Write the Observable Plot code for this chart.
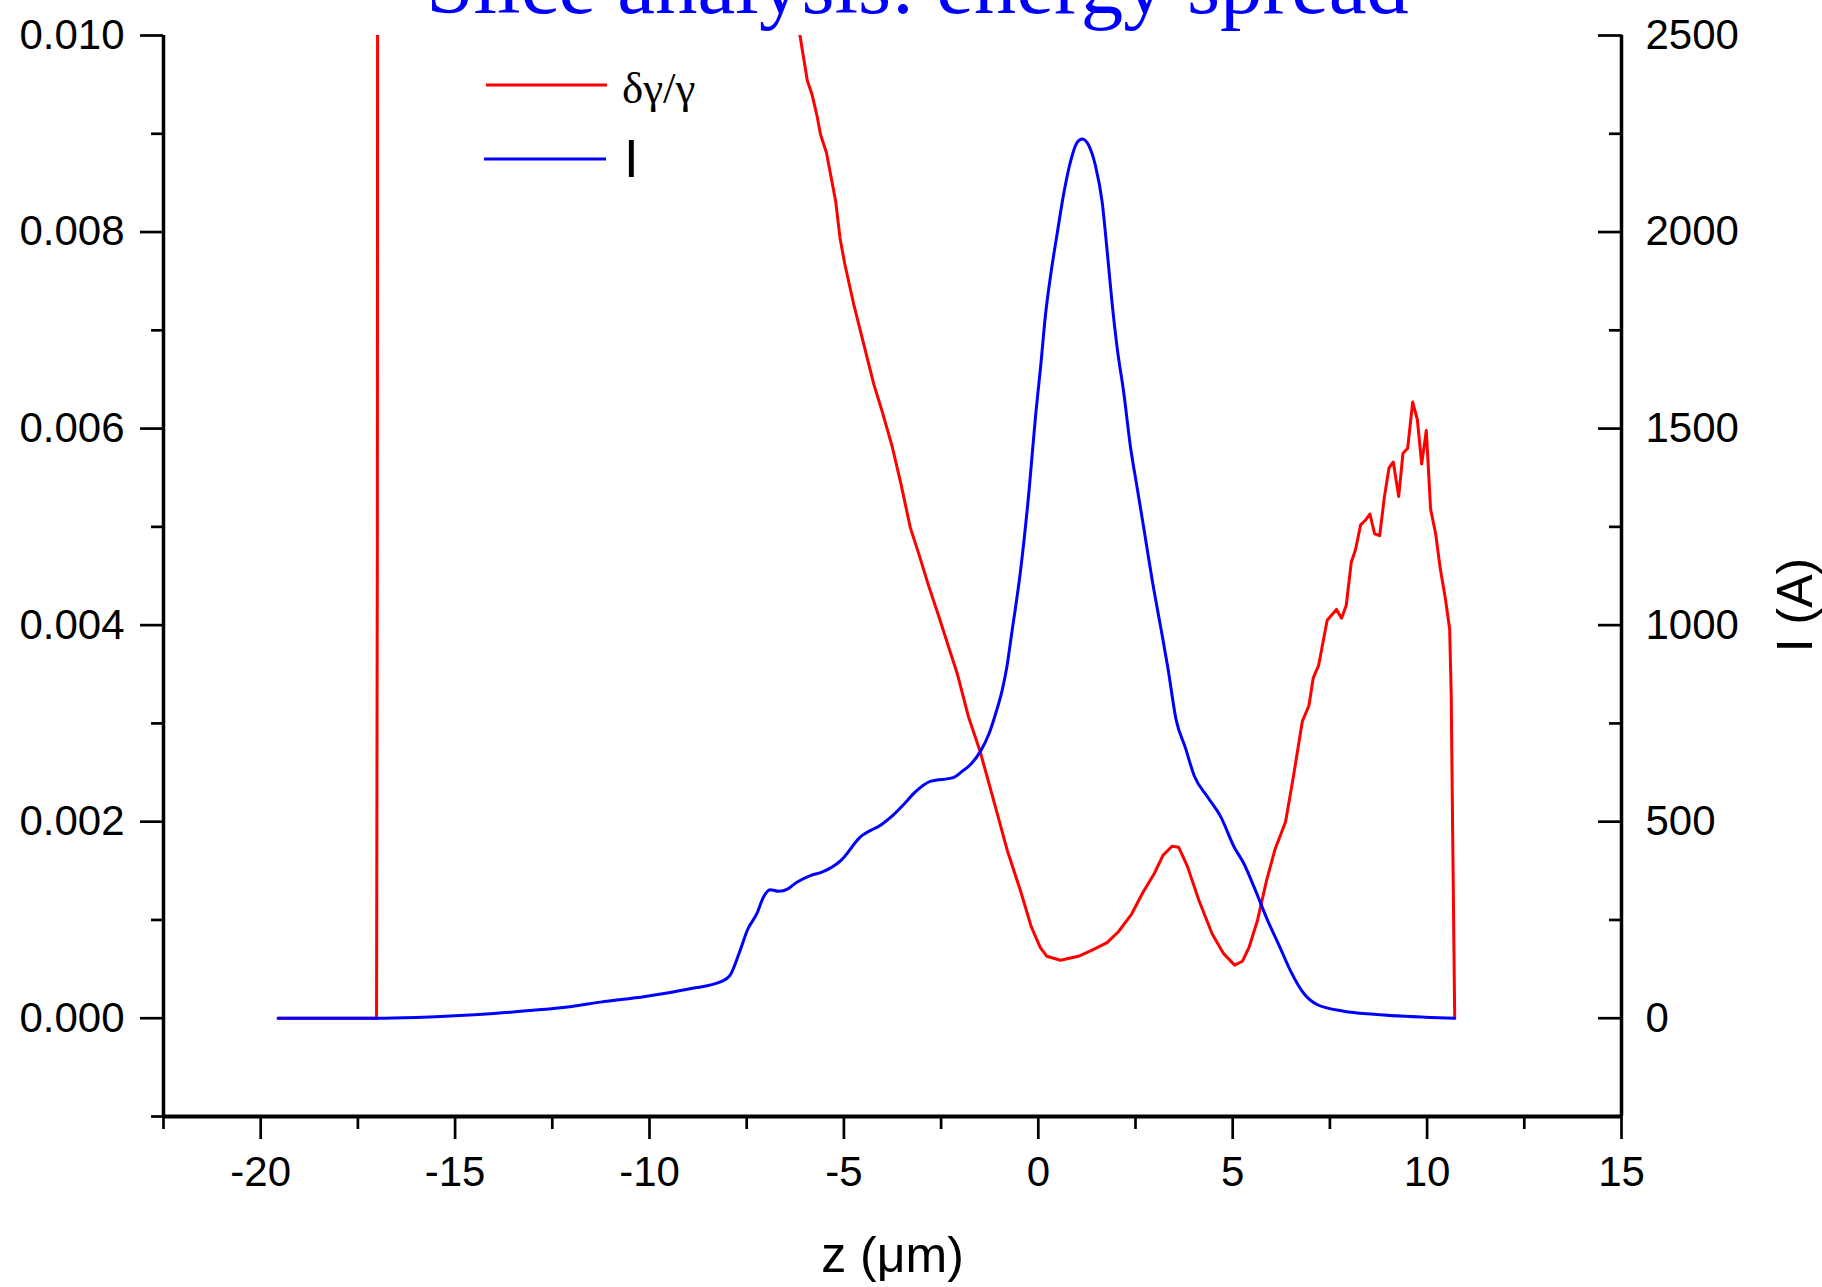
<!DOCTYPE html>
<html><head><meta charset="utf-8">
<script src="https://cdn.jsdelivr.net/npm/d3@7"></script>
<script src="https://cdn.jsdelivr.net/npm/@observablehq/plot@0.6"></script>
<style>
html,body{margin:0;padding:0;background:#fff;overflow:hidden;}
#wrap{position:relative;width:1822px;height:1287px;}
</style></head><body><div id="wrap"></div>
<script>
// ---- data ----
const zDelta = [-19.55,-17.02,-17.00,-16.97,-14,-10,-7.5,-6.6,-6.13,-5.94,-5.82,-5.69,-5.60,-5.45,-5.34,-5.21,-5.10,-4.98,-4.75,-4.49,-4.23,-4.02,-3.76,-3.54,-3.29,-3.07,-2.82,-2.56,-2.30,-2.08,-1.79,-1.50,-1.15,-0.80,-0.46,-0.18,0.05,0.22,0.57,1.03,1.37,1.77,2.06,2.40,2.69,2.98,3.21,3.44,3.61,3.84,4.13,4.47,4.76,5.05,5.25,5.42,5.64,5.87,6.09,6.36,6.57,6.79,6.96,7.07,7.21,7.43,7.67,7.80,7.92,8.05,8.16,8.29,8.42,8.53,8.65,8.78,8.90,9.02,9.13,9.27,9.38,9.50,9.63,9.75,9.86,9.98,10.09,10.22,10.34,10.47,10.58,10.62,10.66,10.71];
const deltaVals = [0,0,0.0049,0.030,0.026,0.018,0.0128,0.0109,0.0100,0.00954,0.00940,0.00918,0.00899,0.00881,0.00858,0.00831,0.00794,0.00768,0.00727,0.00686,0.00645,0.00618,0.00582,0.00545,0.00499,0.00472,0.00440,0.00409,0.00377,0.00350,0.00306,0.00272,0.00222,0.00171,0.00130,0.00093,0.00072,0.00063,0.00059,0.00063,0.00069,0.00077,0.00088,0.00106,0.00128,0.00147,0.00166,0.00175,0.00174,0.00154,0.00120,0.00086,0.00066,0.00054,0.00058,0.00072,0.00100,0.00140,0.00172,0.00200,0.00248,0.00302,0.00318,0.00346,0.00359,0.00405,0.00416,0.00407,0.00420,0.00464,0.00477,0.00502,0.00507,0.00513,0.00493,0.00491,0.00530,0.00560,0.00566,0.00531,0.00575,0.00580,0.00627,0.00609,0.00564,0.00598,0.00518,0.00493,0.00457,0.00427,0.00396,0.00330,0.00180,0];
const zCurrent = [-19.55,-17.0,-16,-15,-14,-13,-12,-11.26,-10.11,-8.96,-8.16,-7.93,-7.70,-7.47,-7.24,-7.07,-6.90,-6.67,-6.44,-6.21,-5.86,-5.58,-5.06,-4.60,-4.03,-3.74,-3.45,-3.17,-2.76,-2.19,-1.96,-1.73,-1.50,-1.27,-1.10,-0.93,-0.81,-0.69,-0.46,-0.24,-0.07,0.06,0.19,0.31,0.49,0.66,0.83,1.00,1.13,1.30,1.47,1.64,1.77,1.90,2.03,2.20,2.37,2.54,2.71,2.93,3.14,3.33,3.55,3.78,4.01,4.36,4.70,5.04,5.29,5.54,5.89,6.23,6.49,6.83,7.17,7.86,8.63,10.09,10.71];
const currentVals = [0,0,2,6,12,20,30,41,55,75,93,109,164,227,266,308,327,323,329,346,363,371,403,459,493,516,545,575,603,612,628,647,677,723,774,834,893,975,1136,1340,1533,1658,1794,1885,1999,2101,2180,2228,2237,2220,2169,2078,1953,1817,1704,1590,1454,1351,1249,1114,999,893,757,689,617,562,511,435,393,336,251,177,120,63,35,18,10,2,0];

const xDomain = [-22.5, 15];
const leftDomain = [-0.001, 0.010];
const rightDomain = [-250, 2500];
const xMajorTicks = [-20,-15,-10,-5,0,5,10,15];
const xMinorTicks = [-22.5,-17.5,-12.5,-7.5,-2.5,2.5,7.5,12.5];
const leftMajorTicks = [0,0.002,0.004,0.006,0.008,0.010];
const leftMinorTicks = [-0.001,0.001,0.003,0.005,0.007,0.009];
const rightMajorTicks = [0,500,1000,1500,2000,2500];
const rightMinorTicks = [-250,250,750,1250,1750,2250];

const titleText = "Slice analysis: energy spread";
const xLabel = "z (μm)";
const rightLabel = "I (A)";
const seriesNames = ["δγ/γ", "I"];
const seriesColors = ["#ff0000", "#0000ff"];

// ---- helpers ----
const kRL = (leftDomain[1]-leftDomain[0])/(rightDomain[1]-rightDomain[0]);
const toLeft = v => leftDomain[0] + (v - rightDomain[0]) * kRL;
const fromLeft = y => rightDomain[0] + (y - leftDomain[0]) / kRL;

const deltaData = zDelta.map((z,i) => ({z, v: deltaVals[i]}));
const currentData = zCurrent.map((z,i) => ({z, v: toLeft(currentVals[i])}));

const sans = "'Liberation Sans', Arial, Helvetica, sans-serif";
const serif = "'Liberation Serif', 'Times New Roman', serif";
const tickW = 2.7;

const chart = Plot.plot({
  width: 1822, height: 1287,
  marginLeft: 163, marginRight: 201, marginTop: 35, marginBottom: 171,
  x: {domain: xDomain},
  y: {domain: leftDomain},
  style: {fontFamily: sans, background: "#fff", color: "#000"},
  marks: [
    Plot.line(deltaData, {x: "z", y: "v", stroke: seriesColors[0], strokeWidth: 3, clip: true}),
    Plot.line(currentData, {x: "z", y: "v", stroke: seriesColors[1], strokeWidth: 3, clip: true, curve: "monotone-x"}),
    Plot.ruleX([xDomain[0]], {stroke: "#000", strokeWidth: 3.5}),
    Plot.ruleX([xDomain[1]], {stroke: "#000", strokeWidth: 3.5}),
    Plot.ruleY([leftDomain[0]], {stroke: "#000", strokeWidth: 4}),
    Plot.axisX({ticks: xMajorTicks, tickSize: 23, tickPadding: 17, fontSize: 42, strokeWidth: tickW, label: null, tickFormat: d => String(d)}),
    Plot.axisX({ticks: xMinorTicks, tickSize: 13, strokeWidth: tickW, fill: "none", label: null}),
    Plot.axisY({anchor: "left", ticks: leftMajorTicks, tickSize: 23, tickPadding: 16, fontSize: 42, strokeWidth: tickW, label: null, tickFormat: d3.format(".3f")}),
    Plot.axisY({anchor: "left", ticks: leftMinorTicks, tickSize: 12, strokeWidth: tickW, fill: "none", label: null}),
    Plot.axisY({anchor: "right", ticks: rightMajorTicks.map(toLeft), tickSize: -24, tickPadding: 48, fontSize: 42, strokeWidth: tickW, label: null, tickFormat: d => String(Math.round(fromLeft(d)))}),
    Plot.axisY({anchor: "right", ticks: rightMinorTicks.map(toLeft), tickSize: -13, strokeWidth: tickW, fill: "none", label: null}),
    Plot.text([xLabel], {text: d => d, frameAnchor: "bottom", dy: 139, fontSize: 50, lineAnchor: "middle", textAnchor: "middle"}),
    Plot.text([rightLabel], {text: d => d, frameAnchor: "right", dx: 174, dy: 29, rotate: -90, fontSize: 50, lineAnchor: "middle", textAnchor: "middle"}),
    Plot.text([titleText], {text: d => d, frameAnchor: "top", dx: 25, dy: -23, lineAnchor: "bottom", textAnchor: "middle", fontSize: 85, fill: "#0000ff", fontFamily: serif})
  ]
});
const wrap = document.getElementById("wrap");
wrap.appendChild(chart);

// ---- legend (overlay) ----
const leg = d3.select(wrap).append("svg")
  .attr("width", 300).attr("height", 170)
  .style("position", "absolute").style("left", "440px").style("top", "40px");
const legRows = [
  {name: seriesNames[0], color: seriesColors[0], y: 45, x1: 46, x2: 167, tx: 182, ty: 63, font: serif, size: 45},
  {name: seriesNames[1], color: seriesColors[1], y: 119, x1: 44, x2: 166, tx: 184, ty: 137, font: sans, size: 53}
];
for (const r of legRows) {
  leg.append("line").attr("x1", r.x1).attr("x2", r.x2).attr("y1", r.y).attr("y2", r.y)
    .attr("stroke", r.color).attr("stroke-width", 3);
  leg.append("text").attr("x", r.tx).attr("y", r.ty).attr("font-family", r.font)
    .attr("font-size", r.size).attr("fill", "#000").text(r.name);
}
</script>
</body></html>
